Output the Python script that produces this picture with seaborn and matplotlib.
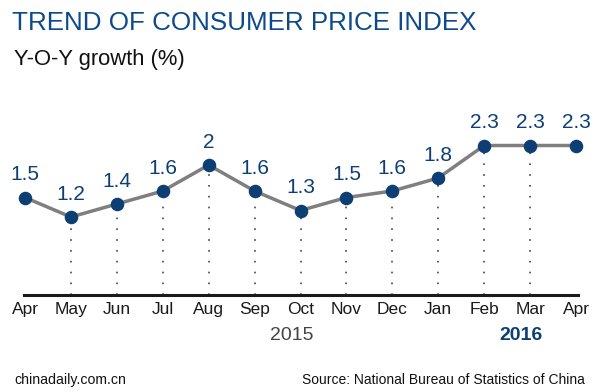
import matplotlib
matplotlib.use('Agg')
import matplotlib.pyplot as plt
import seaborn as sns
import pandas as pd

sns.set_style("white")
plt.rcParams['font.family'] = ['Liberation Sans', 'DejaVu Sans']

# 数据
months = ['Apr', 'May', 'Jun', 'Jul', 'Aug', 'Sep', 'Oct',
          'Nov', 'Dec', 'Jan', 'Feb', 'Mar', 'Apr']
cpi = [1.5, 1.2, 1.4, 1.6, 2.0, 1.6, 1.3, 1.5, 1.6, 1.8, 2.3, 2.3, 2.3]
value_labels = ['1.5', '1.2', '1.4', '1.6', '2', '1.6', '1.3',
                '1.5', '1.6', '1.8', '2.3', '2.3', '2.3']
years = ['2015', '2016']

blue = '#0d3f74'
df = pd.DataFrame({'idx': range(len(months)), 'cpi': cpi})

fig = plt.figure(figsize=(6, 3.92), dpi=100)
ax = fig.add_axes([24 / 600, 97 / 392, 554 / 600, 169 / 392])

# 虚线
for i, v in enumerate(cpi):
    if 0 < i < len(cpi) - 1:
        ax.plot([i, i], [0, v], color='#444444', lw=1.2,
                linestyle=(0, (1, 5.5)), zorder=1)

sns.lineplot(data=df, x='idx', y='cpi', color='#7f7f7f', lw=2.5, ax=ax, zorder=2)
sns.scatterplot(data=df, x='idx', y='cpi', color=blue, s=95, edgecolor=blue,
                linewidth=0, ax=ax, zorder=3)
for coll in ax.collections:
    coll.set_clip_on(False)

for i, (v, lab) in enumerate(zip(cpi, value_labels)):
    ax.annotate(lab, (i, v), xytext=(0, 16.5), textcoords='offset points',
                ha='center', va='center', fontsize=15, color=blue)

ax.set_xlim(-1 / 45.92, 12 + 2 / 45.92)
ax.set_ylim(0, 2.6)
ax.set_xticks(range(len(months)))
ax.set_xticklabels(months, fontsize=12.5, color='#1a1a1a')
ax.tick_params(axis='x', length=0, pad=5)
ax.set_yticks([])
ax.set_xlabel('')
ax.set_ylabel('')
for s in ['top', 'right', 'left']:
    ax.spines[s].set_visible(False)
ax.spines['bottom'].set_color('#1a1a1a')
ax.spines['bottom'].set_linewidth(2.2)

fig.text(292 / 600, 1 - 335 / 392, years[0], ha='center', va='center',
         fontsize=14, color='#444444')
fig.text(521 / 600, 1 - 335 / 392, years[1], ha='center', va='center',
         fontsize=14, color=blue, fontweight='bold')

fig.text(12 / 600, 1 - 23 / 392, 'TREND OF CONSUMER PRICE INDEX', ha='left',
         va='center', fontsize=18.7, color='#0e4a8a')
fig.text(14 / 600, 1 - 60 / 392, 'Y-O-Y growth (%)', ha='left', va='center',
         fontsize=15.8, color='#111111')
fig.text(14 / 600, 1 - 380 / 392, 'chinadaily.com.cn', ha='left', va='center',
         fontsize=10.2, color='#111111')
fig.text(585 / 600, 1 - 380 / 392, 'Source: National Bureau of Statistics of China',
         ha='right', va='center', fontsize=10, color='#111111')

plt.savefig('out.png', dpi=100)
plt.close()
